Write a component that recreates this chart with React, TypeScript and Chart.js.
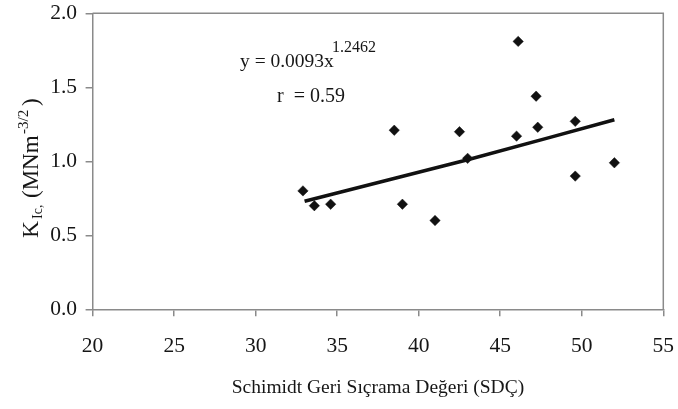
import React, { useEffect, useRef } from "react";
import { Chart, registerables } from "chart.js";

Chart.register(...registerables);

// Schmidt rebound value (SDÇ) and fracture toughness K_Ic (MNm^-3/2)
const sdcValues = [32.9, 33.6, 34.6, 38.5, 39.0, 41.0, 42.5, 43.0, 46.0, 46.1, 47.2, 47.3, 49.6, 49.6, 52.0];
const kicValues = [0.80, 0.70, 0.71, 1.21, 0.71, 0.60, 1.20, 1.02, 1.17, 1.81, 1.44, 1.23, 1.27, 0.90, 0.99];

// Trend line (power fit)
const trendX = [33, 38, 43, 48, 52];
const trendY = [0.73, 0.87, 1.01, 1.16, 1.28];

const xTicks = [20, 25, 30, 35, 40, 45, 50, 55];
const yTicks = [0.0, 0.5, 1.0, 1.5, 2.0];

const eqMain = "y = 0.0093x";
const eqExp = "1.2462";
const rText = "r  = 0.59";
const xTitle = "Schimidt Geri Sıçrama Değeri (SDÇ)";

const SERIF = '"Liberation Serif", "Times New Roman", serif';
const TEXT = "#161616";
const AXIS = "#8a8a8a";

const annotations = {
  id: "annotations",
  afterDraw(chart: any) {
    const ctx = chart.ctx as CanvasRenderingContext2D;
    const { left, right, top, bottom } = chart.chartArea;
    ctx.save();
    // frame top and right
    ctx.strokeStyle = AXIS;
    ctx.lineWidth = 1.5;
    ctx.beginPath();
    ctx.moveTo(left, top);
    ctx.lineTo(right, top);
    ctx.lineTo(right, bottom);
    ctx.stroke();

    ctx.fillStyle = TEXT;
    ctx.textBaseline = "alphabetic";
    ctx.textAlign = "left";
    // equation
    ctx.font = `19.5px ${SERIF}`;
    ctx.fillText(eqMain, 240, 67);
    ctx.font = `16px ${SERIF}`;
    ctx.fillText(eqExp, 332, 52);
    ctx.font = `20px ${SERIF}`;
    ctx.fillText(rText, 277, 102);

    // x title
    ctx.textAlign = "center";
    ctx.font = `19.5px ${SERIF}`;
    ctx.fillText(xTitle, (left + right) / 2, 393);

    // y title (rotated)
    ctx.textAlign = "left";
    const parts: [string, number, number, number][] = [
      ["K", 23.5, 238, 0],
      ["Ic,", 14, 219, 4],
      ["(MNm", 23, 198, 0],
      ["-3/2", 15, 134, -10],
      [")", 23, 106, 0],
    ];
    for (const [t, size, startY, off] of parts) {
      ctx.save();
      ctx.translate(38 + off, startY);
      ctx.rotate(-Math.PI / 2);
      ctx.font = `${size}px ${SERIF}`;
      ctx.fillText(t, 0, 0);
      ctx.restore();
    }
    ctx.restore();
  },
};

export default function App() {
  const ref = useRef<HTMLCanvasElement | null>(null);

  useEffect(() => {
    if (!ref.current) return;
    const chart = new Chart(ref.current, {
      type: "scatter",
      data: {
        datasets: [
          {
            label: "trend",
            data: trendX.map((x, i) => ({ x, y: trendY[i] })),
            showLine: true,
            borderColor: "#111",
            borderWidth: 3.6,
            pointRadius: 0,
            fill: false,
          },
          {
            label: "KIc",
            data: sdcValues.map((x, i) => ({ x, y: kicValues[i] })),
            pointStyle: "rectRot",
            pointRadius: 5.2,
            pointBackgroundColor: "#111",
            pointBorderColor: "#111",
            pointBorderWidth: 0.5,
            showLine: false,
          },
        ],
      },
      options: {
        responsive: false,
        animation: false,
        layout: { padding: { left: 0, right: 14.7, top: 13.3, bottom: 0 } },
        plugins: { legend: { display: false }, tooltip: { enabled: false } },
        scales: {
          x: {
            type: "linear",
            min: 20,
            max: 55,
            afterFit: (s: any) => {
              s.height = 409 - 309.3;
              s.paddingLeft = 0;
              s.paddingRight = 0;
            },
            afterBuildTicks: (s: any) => {
              s.ticks = xTicks.map((v) => ({ value: v }));
            },
            ticks: {
              color: TEXT,
              font: { family: SERIF, size: 21.5 },
              padding: 17,
              callback: (v: any) => String(v),
            },
            grid: { drawOnChartArea: false, drawTicks: true, tickLength: 7, color: AXIS, lineWidth: 1.5 },
            border: { display: true, color: AXIS, width: 1.5 },
            title: { display: false },
          },
          y: {
            type: "linear",
            min: 0,
            max: 2,
            afterFit: (s: any) => {
              s.width = 92.6;
              s.paddingTop = 0;
              s.paddingBottom = 0;
            },
            afterBuildTicks: (s: any) => {
              s.ticks = yTicks.map((v) => ({ value: v }));
            },
            ticks: {
              color: TEXT,
              font: { family: SERIF, size: 21.5 },
              padding: 8.5,
              callback: (v: any) => Number(v).toFixed(1),
            },
            grid: { drawOnChartArea: false, drawTicks: true, tickLength: 7, color: AXIS, lineWidth: 1.5 },
            border: { display: true, color: AXIS, width: 1.5 },
            title: { display: false },
          },
        },
      },
      plugins: [annotations],
    });
    return () => chart.destroy();
  }, []);

  return (
    <div style={{ position: "absolute", left: 0, top: 0, width: 678, height: 409, background: "#fff" }}>
      <canvas ref={ref} width={678} height={409} style={{ display: "block" }} />
    </div>
  );
}
